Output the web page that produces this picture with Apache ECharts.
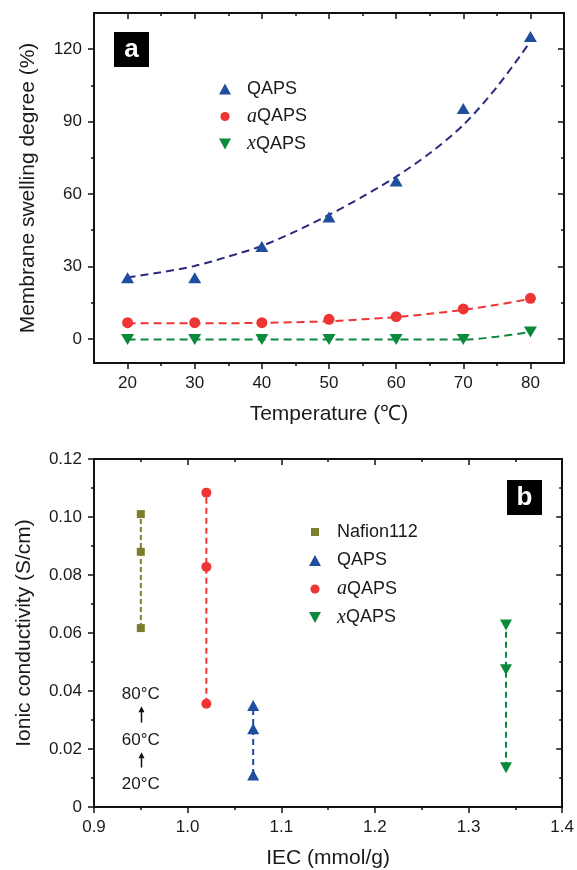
<!DOCTYPE html>
<html><head><meta charset="utf-8">
<script src="https://cdn.jsdelivr.net/npm/echarts@6/dist/echarts.min.js"></script>
<style>html,body{margin:0;padding:0;background:#fff}#c{width:577px;height:870px}</style>
</head><body><div id="c"></div>
<script>
// ---------- Panel a data (swelling degree vs temperature) ----------
const temps = [20, 30, 40, 50, 60, 70, 80];
const qapsSwell  = [25.3, 25.3, 38.3, 50.5, 65.4, 95.4, 125.3];
const aqapsSwell = [6.7, 6.7, 6.7, 8.1, 9.2, 12.4, 16.8];
const xqapsSwell = [-0.3, -0.3, -0.3, -0.3, -0.3, -0.3, 2.8];
// dashed fit curves
const fitTemps = [20, 25, 30, 35, 40, 45, 50, 55, 60, 65, 70, 75, 80];
const qapsFit  = [25.4, 27.6, 30.2, 34.1, 38.5, 44.5, 51.4, 58.9, 67.2, 76.9, 88.6, 104.3, 123.2];
const aqapsFit = [6.5, 6.5, 6.5, 6.5, 6.6, 6.9, 7.3, 8.1, 9.0, 10.4, 12.0, 14.1, 16.6];
const xqapsFit = [-0.3, -0.3, -0.3, -0.3, -0.3, -0.3, -0.3, -0.3, -0.3, -0.3, -0.3, 0.9, 2.8];

// ---------- Panel b data (ionic conductivity vs IEC) ----------
// order: 20°C, 60°C, 80°C
const nafionIEC = [0.95, 0.95, 0.95];
const nafionCond = [0.0617, 0.088, 0.101];
const qapsIEC = [1.07, 1.07, 1.07];
const qapsCond = [0.011, 0.027, 0.035];
const aqapsIEC = [1.02, 1.02, 1.02];
const aqapsCond = [0.0356, 0.0828, 0.1084];
const xqapsIEC = [1.34, 1.34, 1.34];
const xqapsCond = [0.0135, 0.0473, 0.0628];

// annotation (temperature labels) in data coords
const annoLabels = ['80°C', '60°C', '20°C'];
const annoX = 0.95;
const annoY = [0.0388, 0.0231, 0.0078];
const arrowFrom = [0.0291, 0.0136];
const arrowTo = [0.0347, 0.0189];

// ---------- ticks ----------
const tempTicks = [20, 30, 40, 50, 60, 70, 80];
const tempMinor = [25, 35, 45, 55, 65, 75];
const swellTicks = [0, 30, 60, 90, 120];
const swellMinor = [15, 45, 75, 105];
const iecTicks = [0.9, 1.0, 1.1, 1.2, 1.3, 1.4];
const iecMinor = [0.95, 1.05, 1.15, 1.25, 1.35];
const condTicks = [0, 0.02, 0.04, 0.06, 0.08, 0.10, 0.12];
const condMinor = [0.01, 0.03, 0.05, 0.07, 0.09, 0.11];

const FONT = '"Liberation Sans", Arial, sans-serif';
const SERIF = '"Liberation Serif", "Times New Roman", serif';
const C_BLUE = '#1f4e9f', C_NAVY = '#2a2a7e', C_RED = '#ef3434', C_GREEN = '#0b8a3c', C_OLIVE = '#7d7d2e';

const upTri = 'path://M6,0 L12,11 L0,11 Z';
const downTri = 'path://M0,0 L12,0 L6,11 Z';
const smallSquare = 'path://M0,0M11,11M1.5,1.5h8v8h-8z';
const smallCircle = 'path://M0,0M12,12M1,6a5,5 0 1,0 10,0a5,5 0 1,0 -10,0z';

function axisSet(dim, gridIndex, min, max, major, minor, fmt, name, nameGap) {
  const base = (pos, ticks, len, inside, showLine) => ({
    type: 'value', gridIndex, min, max, position: pos,
    splitLine: { show: false },
    axisLine: { show: showLine, onZero: false, lineStyle: { color: '#111', width: 2 } },
    axisTick: { show: true, customValues: ticks, length: len, inside, lineStyle: { color: '#111', width: 1.5 } },
    axisLabel: { show: false },
    z: 5
  });
  const p1 = dim === 'x' ? 'bottom' : 'left';
  const p2 = dim === 'x' ? 'top' : 'right';
  const main = base(p1, major, 6, false, true);
  main.axisLabel = { show: true, customValues: major, formatter: fmt, fontSize: 17, fontFamily: FONT, color: '#1a1a1a', margin: 12 };
  main.name = name;
  main.nameLocation = 'middle';
  main.nameGap = nameGap;
  main.nameTextStyle = { fontSize: 21, fontFamily: FONT, color: '#1a1a1a' };
  if (dim === 'y') main.nameRotate = 90;
  return [
    main,
    base(p1, minor, 3, false, false),
    base(p2, major, 6, true, true),
    base(p2, minor, 3, true, false)
  ];
}

const zip = (xs, ys) => xs.map((x, i) => [x, ys[i]]);

const xAxes = [
  ...axisSet('x', 0, 15, 85, tempTicks, tempMinor, v => String(v), 'Temperature (℃)', 41),
  ...axisSet('x', 1, 0.9, 1.4, iecTicks, iecMinor, v => v.toFixed(1), 'IEC (mmol/g)', 41)
];
const yAxes = [
  ...axisSet('y', 0, -10, 135, swellTicks, swellMinor, v => String(v), 'Membrane swelling degree (%)', 55),
  ...axisSet('y', 1, 0, 0.12, condTicks, condMinor, v => v === 0 ? '0' : v.toFixed(2), 'Ionic conductivity (S/cm)', 59)
];

function fitLine(name, xs, ys, color) {
  return { name, type: 'line', xAxisIndex: 0, yAxisIndex: 0, data: zip(xs, ys), smooth: 0.3,
    symbol: 'none', lineStyle: { color, width: 2, type: [8, 5] }, z: 2, silent: true };
}
function scat(name, xs, ys, color, symbol, size) {
  return { name, type: 'scatter', xAxisIndex: 0, yAxisIndex: 0, data: zip(xs, ys), symbol, symbolSize: size,
    itemStyle: { color, opacity: 1 }, z: 4 };
}
function bLine(name, xs, ys, color, symbol, size, dash) {
  return { name, type: 'line', xAxisIndex: 4, yAxisIndex: 4, data: zip(xs, ys), symbol, symbolSize: size,
    showSymbol: true, itemStyle: { color, opacity: 1, borderWidth: 0 }, lineStyle: { color, width: 2, type: dash }, z: 4 };
}

const legendFormatter = n => n === 'aQAPS' ? '{i|a}QAPS' : n === 'xQAPS' ? '{i|x}QAPS' : n;
const legendText = { fontSize: 18, fontFamily: FONT, color: '#1a1a1a', lineHeight: 20,
  rich: { i: { fontFamily: SERIF, fontStyle: 'italic', fontSize: 20, color: '#1a1a1a', lineHeight: 20 } } };

const option = {
  animation: false,
  backgroundColor: '#fff',
  grid: [
    { left: 94, width: 470, top: 13, height: 350 },
    { left: 94, width: 470, top: 459, height: 349 }
  ],
  xAxis: xAxes,
  yAxis: yAxes,
  legend: [
    { orient: 'vertical', left: 214, top: 74, itemWidth: 34, itemHeight: 11, itemGap: 7.5, selectedMode: false,
      data: [{ name: 'QAPS', icon: upTri }, { name: 'aQAPS', icon: smallCircle }, { name: 'xQAPS', icon: downTri }],
      formatter: legendFormatter, textStyle: legendText },
    { orient: 'vertical', left: 304, top: 517, itemWidth: 34, itemHeight: 11, itemGap: 8.5, selectedMode: false,
      data: [{ name: 'Nafion112', icon: smallSquare }, { name: 'QAPS', icon: upTri }, { name: 'aQAPS', icon: smallCircle }, { name: 'xQAPS', icon: downTri }],
      formatter: legendFormatter, textStyle: legendText }
  ],
  series: [
    scat('QAPS', temps, qapsSwell, C_BLUE, upTri, [13, 11]),
    scat('aQAPS', temps, aqapsSwell, C_RED, 'circle', 11),
    scat('xQAPS', temps, xqapsSwell, C_GREEN, downTri, [13, 11]),
    fitLine('QAPS fit', fitTemps, qapsFit, C_NAVY),
    fitLine('aQAPS fit', fitTemps, aqapsFit, C_RED),
    fitLine('xQAPS fit', fitTemps, xqapsFit, C_GREEN),
    bLine('Nafion112', nafionIEC, nafionCond, C_OLIVE, 'rect', 8, [5, 3]),
    bLine('QAPS', qapsIEC, qapsCond, C_BLUE, upTri, [12, 11], [6, 4]),
    bLine('aQAPS', aqapsIEC, aqapsCond, C_RED, 'circle', 10, [6, 4]),
    bLine('xQAPS', xqapsIEC, xqapsCond, C_GREEN, downTri, [12, 11], [6, 4])
  ]
};

const chart = echarts.init(document.getElementById('c'));
chart.setOption(option);

// panel labels and temperature annotations
const g = [];
function box(x, y, letter) {
  g.push({ type: 'rect', shape: { x, y, width: 35, height: 35 }, style: { fill: '#000' }, z: 10 });
  g.push({ type: 'text', x: x + 17.5, y: y + 18, style: { text: letter, fill: '#fff', font: 'bold 26px ' + FONT, align: 'center', verticalAlign: 'middle' }, z: 11 });
}
box(114, 32, 'a');
box(507, 480, 'b');
annoLabels.forEach((t, i) => {
  const p = chart.convertToPixel({ gridIndex: 1 }, [annoX, annoY[i]]);
  g.push({ type: 'text', x: p[0], y: p[1], style: { text: t, fill: '#1a1a1a', font: '17px ' + FONT, align: 'center', verticalAlign: 'middle' }, z: 10 });
});
arrowFrom.forEach((v, i) => {
  const a = chart.convertToPixel({ gridIndex: 1 }, [annoX, v]);
  const b = chart.convertToPixel({ gridIndex: 1 }, [annoX, arrowTo[i]]);
  const x = Math.round(a[0]) + 0.5;
  g.push({ type: 'line', shape: { x1: x, y1: a[1], x2: x, y2: b[1] + 4 }, style: { stroke: '#111', lineWidth: 1.5 }, z: 10 });
  g.push({ type: 'polygon', shape: { points: [[x, b[1]], [x - 3, b[1] + 6], [x + 3, b[1] + 6]] }, style: { fill: '#111' }, z: 10 });
});
chart.setOption({ graphic: g });
</script>
</body></html>
